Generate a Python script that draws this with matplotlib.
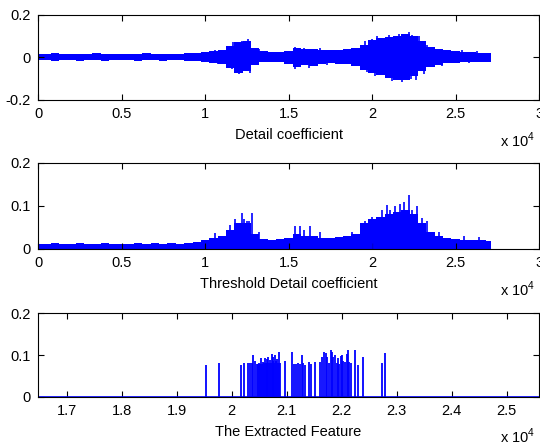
import numpy as np
import matplotlib
matplotlib.use("Agg")
import matplotlib.pyplot as plt

plt.rcParams['font.family'] = ['Liberation Sans', 'DejaVu Sans']
plt.rcParams['mathtext.fontset'] = 'custom'
plt.rcParams['mathtext.rm'] = 'Liberation Sans'
plt.rcParams['font.size'] = 10.5

# sample index grid of the envelopes (500 samples per step, signal ends ~27100)
x = np.r_[np.arange(0, 27000, 500), 27100]

# Detail coefficient - upper / lower envelope
det_up = [0.015, 0.016, 0.018, 0.015, 0.016, 0.017, 0.015, 0.018, 0.016, 0.015,
          0.017, 0.015, 0.016, 0.018, 0.016, 0.017, 0.015, 0.016, 0.018, 0.020,
          0.024, 0.030, 0.034, 0.055, 0.070, 0.075, 0.045, 0.028, 0.025, 0.027,
          0.030, 0.042, 0.038, 0.040, 0.035, 0.033, 0.035, 0.038, 0.045, 0.060,
          0.080, 0.090, 0.095, 0.100, 0.108, 0.100, 0.075, 0.050, 0.040, 0.032,
          0.028, 0.025, 0.025, 0.022, 0.020]
det_lo = [-0.013, -0.014, -0.015, -0.013, -0.014, -0.016, -0.013, -0.014, -0.015, -0.013,
          -0.014, -0.013, -0.015, -0.014, -0.013, -0.015, -0.014, -0.013, -0.015, -0.018,
          -0.020, -0.025, -0.030, -0.050, -0.072, -0.065, -0.035, -0.022, -0.020, -0.022,
          -0.030, -0.045, -0.035, -0.040, -0.030, -0.028, -0.030, -0.032, -0.040, -0.060,
          -0.075, -0.085, -0.095, -0.105, -0.108, -0.090, -0.065, -0.045, -0.035, -0.028,
          -0.025, -0.022, -0.022, -0.020, -0.020]
# single spikes sticking out of the envelope
det_spk_x = [10600, 11300, 11700, 11900, 12200, 12400, 12600, 13200, 15400, 15900,
             16900, 18800, 19600, 20000, 20300, 20600, 21000, 21300, 21600, 22000,
             22200, 22400, 22800, 23300, 25400, 26300,
             10800, 11600, 12050, 12300, 12700, 15400, 15700, 16200, 17300, 19700,
             20200, 20700, 21200, 21500, 21800, 22300, 22600, 23100, 24200, 25800]
det_spk_y = [0.036, 0.045, 0.070, 0.060, 0.078, 0.065, 0.086, 0.040, 0.050, 0.046,
             0.042, 0.045, 0.075, 0.085, 0.100, 0.090, 0.105, 0.095, 0.110, 0.100,
             0.121, 0.105, 0.100, 0.060, 0.032, 0.030,
             -0.030, -0.055, -0.080, -0.065, -0.075, -0.055, -0.045, -0.050, -0.035, -0.070,
             -0.090, -0.085, -0.110, -0.095, -0.118, -0.100, -0.105, -0.080, -0.040, -0.028]

# Threshold detail coefficient envelope
thr = [0.012, 0.012, 0.013, 0.012, 0.012, 0.013, 0.012, 0.012, 0.013, 0.012,
       0.012, 0.012, 0.013, 0.012, 0.013, 0.012, 0.013, 0.012, 0.013, 0.015,
       0.020, 0.025, 0.030, 0.045, 0.060, 0.060, 0.035, 0.022, 0.020, 0.022,
       0.025, 0.035, 0.030, 0.030, 0.025, 0.025, 0.028, 0.030, 0.035, 0.060,
       0.070, 0.075, 0.080, 0.085, 0.090, 0.080, 0.060, 0.040, 0.030, 0.025,
       0.022, 0.020, 0.020, 0.020, 0.018]
thr_spk_x = [10600, 11500, 11800, 12100, 12200, 12350, 12500, 12650, 12800, 13200,
             15400, 15700, 15900, 16300, 16900, 18800, 19600, 20000, 20300, 20600,
             20900, 21100, 21400, 21700, 21900, 22200, 22400, 22700, 23000, 23300,
             24000, 25500, 26400]
thr_spk_y = [0.036, 0.055, 0.070, 0.060, 0.083, 0.070, 0.065, 0.065, 0.083, 0.040,
             0.053, 0.053, 0.045, 0.053, 0.040, 0.040, 0.065, 0.075, 0.070, 0.090,
             0.102, 0.090, 0.100, 0.105, 0.110, 0.124, 0.090, 0.100, 0.072, 0.065,
             0.040, 0.030, 0.028]

# The extracted feature - spikes
feat_x = [19530, 19765, 20165, 20225, 20300, 20330, 20365, 20394, 20430, 20470,
          20485, 20500, 20515, 20535, 20550, 20575, 20590, 20605, 20620, 20635,
          20650, 20665, 20680, 20700, 20715, 20730, 20745, 20755, 20770, 20790,
          20805, 20820, 20840, 20855, 20880, 20970, 21105, 21135, 21170, 21205,
          21245, 21275, 21305, 21335, 21400, 21440, 21520, 21605, 21650, 21685,
          21715, 21740, 21775, 21800, 21825, 21850, 21880, 21910, 21935, 21960,
          21985, 22010, 22030, 22055, 22090, 22110, 22140, 22165, 22240, 22300,
          22385, 22740, 22785]
feat_y = [0.076, 0.082, 0.077, 0.080, 0.080, 0.080, 0.080, 0.100, 0.086, 0.078,
          0.078, 0.080, 0.078, 0.094, 0.078, 0.084, 0.080, 0.092, 0.080, 0.090,
          0.082, 0.095, 0.080, 0.088, 0.082, 0.102, 0.085, 0.095, 0.080, 0.099,
          0.085, 0.091, 0.080, 0.107, 0.082, 0.086, 0.107, 0.078, 0.078, 0.080,
          0.078, 0.100, 0.080, 0.077, 0.083, 0.078, 0.083, 0.083, 0.095, 0.107,
          0.104, 0.095, 0.080, 0.112, 0.108, 0.095, 0.100, 0.082, 0.094, 0.078,
          0.097, 0.100, 0.086, 0.083, 0.102, 0.113, 0.083, 0.082, 0.113, 0.077,
          0.095, 0.080, 0.104]

blue = (0, 0, 1)
fig = plt.figure(figsize=(5.4, 4.46), dpi=100)
ax1 = fig.add_axes([0.0704, 0.776, 0.928, 0.191])
ax2 = fig.add_axes([0.0704, 0.442, 0.928, 0.193])
ax3 = fig.add_axes([0.0704, 0.110, 0.928, 0.188])

# Detail coefficient
ax1.fill_between(x, det_lo, det_up, color=blue, lw=0, step='mid')
ax1.vlines(det_spk_x, 0, det_spk_y, color=blue, lw=1.2)
ax1.set_ylim(-0.2, 0.2)
ax1.set_yticks([-0.2, 0, 0.2])
ax1.set_yticklabels(['-0.2', '0', '0.2'])

# Threshold
ax2.fill_between(x, 0, thr, color=blue, lw=0, step='mid')
ax2.vlines(thr_spk_x, 0, thr_spk_y, color=blue, lw=1.2)
ax2.set_ylim(0, 0.2)
ax2.set_yticks([0, 0.1, 0.2])
ax2.set_yticklabels(['0', '0.1', '0.2'])

for ax in (ax1, ax2):
    ax.set_xlim(0, 30000)
    ticks = np.arange(0, 30001, 5000)
    ax.set_xticks(ticks)
    ax.set_xticklabels(['%g' % (t / 1e4) for t in ticks])

# Extracted feature
ax3.axhline(0, color=blue, lw=1.2)
ax3.vlines(feat_x, 0, feat_y, color=blue, lw=1.3)
ax3.set_xlim(16480, 25590)
ax3.set_ylim(0, 0.2)
ax3.set_yticks([0, 0.1, 0.2])
ax3.set_yticklabels(['0', '0.1', '0.2'])
ticks3 = np.arange(17000, 25001, 1000)
ax3.set_xticks(ticks3)
ax3.set_xticklabels(['%g' % (t / 1e4) for t in ticks3])

labels = ['Detail coefficient', 'Threshold Detail coefficient', 'The Extracted Feature']
for ax, lab in zip((ax1, ax2, ax3), labels):
    ax.set_xlabel(lab, labelpad=5)
    ax.tick_params(direction='in', top=True, right=True, length=4, pad=5)
    for s in ax.spines.values():
        s.set_linewidth(0.8)
    ax.text(0.993, -0.47, r'x 10$^{4}$', transform=ax.transAxes, ha='right', va='center')

fig.savefig('out.png', dpi=100)
